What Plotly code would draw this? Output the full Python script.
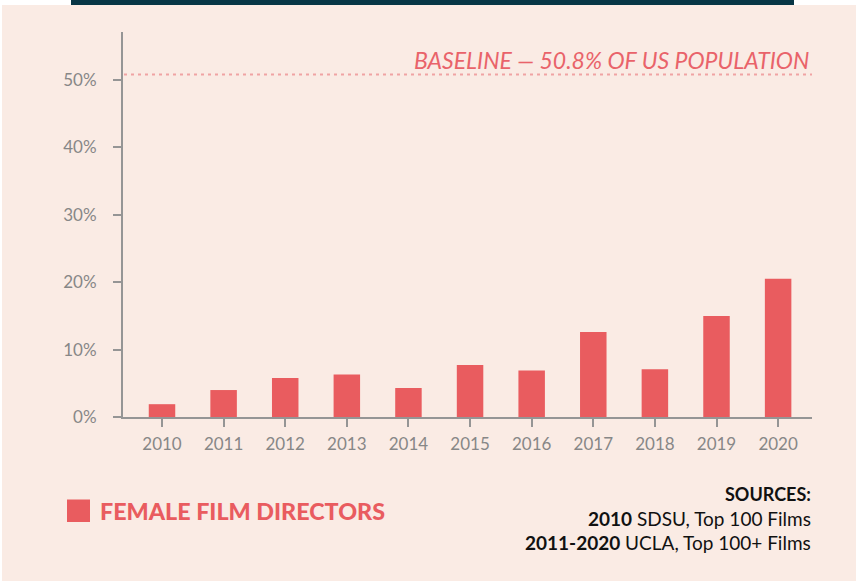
import plotly.graph_objects as go

years = ["2010", "2011", "2012", "2013", "2014", "2015", "2016", "2017", "2018", "2019", "2020"]
female_directors_pct = [1.9, 4.0, 5.8, 6.3, 4.3, 7.7, 6.9, 12.6, 7.1, 15.0, 20.5]
baseline_pct = 50.8
y_tick_vals = [0, 10, 20, 30, 40, 50]
y_tick_text = ["0%", "10%", "20%", "30%", "40%", "50%"]

W, H = 856, 582
L, R, T, B = 123, 44, 32, 165
PW, PH = W - L - R, H - T - B

def px(x):
    return (x - L) / PW

def py(y):
    return (H - B - y) / PH

BG = "#FAEBE4"
RED = "#E95C5F"
GRAY = "#959595"
LABEL = "#878787"

fig = go.Figure()
fig.add_trace(go.Bar(
    x=list(range(len(years))), y=female_directors_pct,
    marker=dict(color=RED, line=dict(width=0)),
    width=0.43, showlegend=False, hoverinfo="skip",
))

fig.update_layout(
    width=W, height=H,
    margin=dict(l=L, r=R, t=T, b=B, pad=0),
    paper_bgcolor="white", plot_bgcolor="rgba(0,0,0,0)",
    font=dict(family="Lato", color=LABEL),
    xaxis=dict(
        range=[-0.633, 10.55], tickmode="array",
        tickvals=list(range(len(years))), ticktext=years,
        showline=True, linecolor=GRAY, linewidth=2,
        ticks="outside", ticklen=8, tickwidth=2, tickcolor=GRAY,
        showgrid=False, zeroline=False, fixedrange=True,
        tickfont=dict(size=17, color=LABEL, family="Lato"),
        ticklabelstandoff=3,
    ),
    yaxis=dict(
        range=[0, PH / 6.74], tickmode="array",
        tickvals=y_tick_vals, ticktext=y_tick_text,
        showline=True, linecolor=GRAY, linewidth=2,
        ticks="outside", ticklen=8, tickwidth=2, tickcolor=GRAY,
        showgrid=False, zeroline=False, fixedrange=True,
        tickfont=dict(size=17, color=LABEL, family="Lato"),
        ticklabelstandoff=13,
    ),
    shapes=[
        dict(type="rect", xref="paper", yref="paper", layer="below",
             x0=px(2), x1=px(857), y0=py(581), y1=py(5),
             fillcolor=BG, line=dict(width=0)),
        dict(type="rect", xref="paper", yref="paper", layer="above",
             x0=px(71), x1=px(794), y0=py(5), y1=py(-2),
             fillcolor="#073646", line=dict(width=0)),
        dict(type="line", xref="paper", yref="y", layer="above",
             x0=px(124), x1=px(812), y0=baseline_pct, y1=baseline_pct,
             line=dict(color="#F0A3A3", width=2, dash="3px,4px")),
        dict(type="rect", xref="paper", yref="paper", layer="above",
             x0=px(67), x1=px(90), y0=py(522), y1=py(499.5),
             fillcolor=RED, line=dict(width=0)),
    ],
    annotations=[
        dict(xref="paper", yref="paper", x=px(811), y=py(60),
             xanchor="right", yanchor="middle", showarrow=False,
             text="<i>BASELINE — 50.8% OF US POPULATION</i>",
             font=dict(family="Lato", size=23, color="#E9636A")),
        dict(xref="paper", yref="paper", x=px(98), y=py(511),
             xanchor="left", yanchor="middle", showarrow=False,
             text="FEMALE FILM DIRECTORS",
             font=dict(family="Lato", size=23.3, color=RED, weight=900)),
        dict(xref="paper", yref="paper", x=px(813), y=py(494),
             xanchor="right", yanchor="middle", showarrow=False,
             text="<b>SOURCES:</b>",
             font=dict(family="Lato", size=18, color="#111111", weight=900)),
        dict(xref="paper", yref="paper", x=px(813), y=py(518),
             xanchor="right", yanchor="middle", showarrow=False,
             text="<b>2010</b> SDSU, Top 100 Films",
             font=dict(family="Lato", size=19, color="#111111")),
        dict(xref="paper", yref="paper", x=px(813), y=py(542),
             xanchor="right", yanchor="middle", showarrow=False,
             text="<b>2011-2020</b> UCLA, Top 100+ Films",
             font=dict(family="Lato", size=19, color="#111111")),
    ],
)

fig.write_html("out.html", config={"displayModeBar": False},
               post_script="document.body.style.margin='0';document.body.style.padding='0';")
